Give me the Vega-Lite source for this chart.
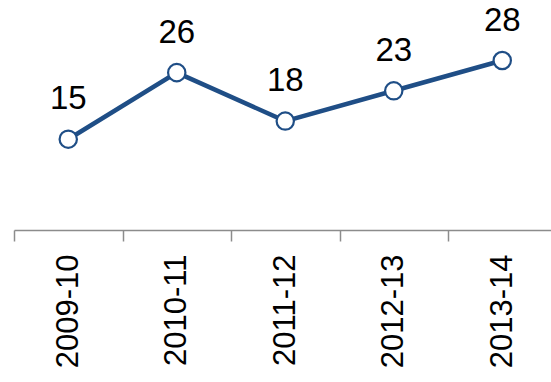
{
  "$schema": "https://vega.github.io/schema/vega-lite/v6.json",
  "width": 538,
  "height": 230,
  "autosize": {"type": "none"},
  "padding": {"left": 14, "top": 0, "right": 0, "bottom": 152},
  "background": "white",
  "data": {
    "values": [
      {"year": "2009-10", "value": 15},
      {"year": "2010-11", "value": 26},
      {"year": "2011-12", "value": 18},
      {"year": "2012-13", "value": 23},
      {"year": "2013-14", "value": 28}
    ]
  },
  "encoding": {
    "x": {
      "field": "year",
      "type": "ordinal",
      "sort": null,
      "scale": {"type": "band", "range": [0, 542.5], "paddingInner": 0, "paddingOuter": 0},
      "axis": {
        "title": null,
        "labelAngle": 270,
        "labelAlign": "right",
        "labelBaseline": "middle",
        "labelFont": "Liberation Sans",
        "labelFontSize": 31,
        "labelColor": "#000000",
        "labelPadding": 13,
        "tickBand": "extent",
        "tickSize": 11,
        "tickColor": "#8c8c8c",
        "tickWidth": 1.5,
        "domainColor": "#8c8c8c",
        "domainWidth": 1.5,
        "grid": false
      }
    },
    "y": {
      "field": "value",
      "type": "quantitative",
      "scale": {"domain": [0, 38], "nice": false, "zero": true},
      "axis": null
    }
  },
  "layer": [
    {
      "mark": {"type": "line", "color": "#1F4E86", "strokeWidth": 4.5}
    },
    {
      "mark": {"type": "point", "filled": true, "fill": "white", "stroke": "#1F4E86", "strokeWidth": 2.2, "size": 300, "opacity": 1}
    },
    {
      "mark": {"type": "text", "dy": -30, "baseline": "alphabetic", "align": "center", "font": "Liberation Sans", "fontSize": 33, "color": "#000000"},
      "encoding": {"text": {"field": "value", "type": "quantitative"}}
    }
  ],
  "config": {"view": {"stroke": null}}
}
